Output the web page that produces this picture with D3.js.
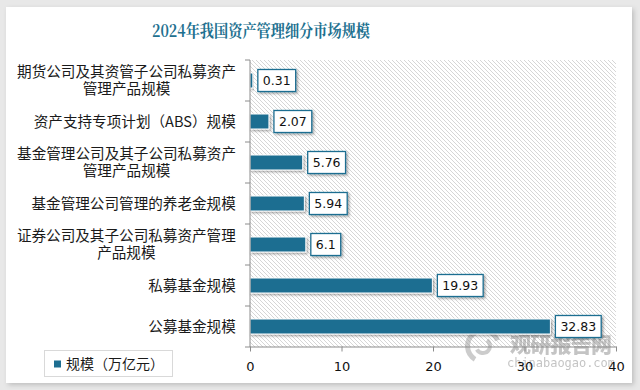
<!DOCTYPE html>
<html><head><meta charset="utf-8">
<script src="https://cdn.jsdelivr.net/npm/d3@7"></script>
<style>html,body{margin:0;padding:0;background:#e8e8e8;}svg{display:block;}</style>
</head><body>
<script>
const categories = [
  ["期货公司及其资管子公司私募资产","管理产品规模"],
  ["资产支持专项计划（ABS）规模"],
  ["基金管理公司及其子公司私募资产","管理产品规模"],
  ["基金管理公司管理的养老金规模"],
  ["证券公司及其子公司私募资产管理","产品规模"],
  ["私募基金规模"],
  ["公募基金规模"]
];
const values = [0.31, 2.07, 5.76, 5.94, 6.1, 19.93, 32.83];
const valueLabels = ["0.31","2.07","5.76","5.94","6.1","19.93","32.83"];
const xTicks = [0, 10, 20, 30, 40];
const title = "2024年我国资产管理细分市场规模";
const seriesName = "规模（万亿元）";

const W = 640, H = 390;
const blue = "#1d6e91";
const svg = d3.select("body").append("svg").attr("width", W).attr("height", H);
const defs = svg.append("defs");
const f1 = defs.append("filter").attr("id","panelShadow").attr("x","-5%").attr("y","-5%").attr("width","110%").attr("height","110%");
f1.append("feDropShadow").attr("dx",2).attr("dy",2).attr("stdDeviation",2.5).attr("flood-color","#000").attr("flood-opacity",0.18);
const f2 = defs.append("filter").attr("id","sh").attr("x","-20%").attr("y","-30%").attr("width","150%").attr("height","180%");
f2.append("feDropShadow").attr("dx",1.5).attr("dy",1.5).attr("stdDeviation",1).attr("flood-color","#000").attr("flood-opacity",0.35);
const pat = defs.append("pattern").attr("id","hatch").attr("patternUnits","userSpaceOnUse").attr("width",4).attr("height",4);
pat.append("rect").attr("width",4).attr("height",4).attr("fill","#fff");
pat.append("path").attr("d","M-1,3 l2,2 M0,0 l4,4 M3,-1 l2,2").attr("stroke","#d6d6d6").attr("stroke-width",1);

svg.append("rect").attr("x",6).attr("y",7).attr("width",626).attr("height",376).attr("fill","#fff").attr("filter","url(#panelShadow)");

svg.append("text").attr("x",261).attr("y",37).attr("text-anchor","middle")
  .attr("font-family","'Noto Serif CJK SC','Noto Sans CJK SC',serif").attr("font-weight","bold")
  .attr("font-size",17).attr("fill","#21708f").attr("textLength",218).attr("lengthAdjust","spacingAndGlyphs").text(title);

const x = d3.scaleLinear().domain([0,40]).range([250,616]);
const y = d3.scaleBand().domain(d3.range(categories.length)).range([60,347]).padding(0);
const barH = 15;

svg.append("rect").attr("x",250).attr("y",60).attr("width",366).attr("height",287).attr("fill","url(#hatch)");

// watermark
const wm = svg.append("g").attr("opacity",0.5);
wm.append("path").attr("d", d3.arc()({innerRadius:13,outerRadius:18,startAngle:-2.6,endAngle:1.2})).attr("transform","translate(483,346)").attr("fill","#9a9a9a");
wm.append("path").attr("d", d3.arc()({innerRadius:5,outerRadius:9,startAngle:0.6,endAngle:4.2})).attr("transform","translate(483,346)").attr("fill","#9a9a9a");
wm.append("text").attr("x",510).attr("y",352).attr("font-family","'Noto Sans CJK SC'").attr("font-weight","900").attr("font-size",21).attr("fill","#8a8a8a").attr("textLength",102).text("观研报告网");
wm.append("text").attr("x",507).attr("y",367).attr("font-family","'DejaVu Sans Mono',monospace").attr("font-size",12).attr("fill","#8a8a8a").attr("textLength",108).text("chinabaogao.com");

// bars
svg.selectAll("rect.bar").data(values).join("rect").attr("class","bar")
  .attr("x", x(0)).attr("y",(d,i)=>y(i)+y.bandwidth()/2-barH/2)
  .attr("width", d=>x(d)-x(0)).attr("height",barH)
  .attr("fill",blue).attr("stroke","#fff").attr("stroke-width",1).attr("filter","url(#sh)");

// axes
const gy = svg.append("g").attr("transform","translate(250,0)");
gy.append("line").attr("x1",0).attr("x2",0).attr("y1",60).attr("y2",347).attr("stroke","#8c8c8c");
gy.selectAll("line.t").data(d3.range(categories.length+1)).join("line").attr("class","t")
  .attr("x1",-5).attr("x2",0).attr("y1",i=>60+i*y.step()).attr("y2",i=>60+i*y.step()).attr("stroke","#8c8c8c");

const xAxis = d3.axisBottom(x).tickValues(xTicks).tickSize(5).tickSizeOuter(0);
const gx = svg.append("g").attr("transform","translate(0,346.5)").call(xAxis);
gx.select(".domain").attr("stroke","#8c8c8c");
gx.selectAll(".tick line").attr("stroke","#8c8c8c");
gx.selectAll(".tick text").attr("font-family","'DejaVu Sans',Verdana,sans-serif").attr("font-size",13).attr("fill","#111").attr("dy","1.28em");

// category labels
const lab = svg.append("g");
categories.forEach((lines,i)=>{
  const cy = y(i)+y.bandwidth()/2;
  const lh = 17.5;
  const g = lab.append("g");
  lines.forEach((t,j)=>{
    g.append("text").attr("y", cy + (j-(lines.length-1)/2)*lh).attr("dy","0.35em")
      .attr("text-anchor","middle").attr("font-family","'Noto Sans CJK SC',sans-serif")
      .attr("font-size",14.6).attr("fill","#1a1a1a").text(t);
  });
  const bb = g.node().getBBox();
  g.attr("transform",`translate(${236 - bb.width/2},0)`);
});

// value labels
values.forEach((v,i)=>{
  const cy = y(i)+y.bandwidth()/2;
  const g = svg.append("g");
  const t = g.append("text").attr("x", x(v)+10).attr("y",cy).attr("dy","0.36em")
    .attr("font-family","'DejaVu Sans',Verdana,sans-serif").attr("font-size",12.5).attr("fill","#111").text(valueLabels[i]);
  const tw = t.node().getComputedTextLength();
  g.insert("rect","text").attr("x",x(v)+5).attr("y",cy-11).attr("width",tw+10).attr("height",22)
    .attr("fill","#fff").attr("stroke",blue).attr("stroke-width",1.3).attr("filter","url(#sh)");
});

// legend
const lg = svg.append("g");
lg.append("rect").attr("x",44.5).attr("y",350.5).attr("width",128).attr("height",26).attr("fill","#fff").attr("stroke","#d9d9d9");
lg.append("rect").attr("x",54).attr("y",360.5).attr("width",7).attr("height",7).attr("fill",blue);
lg.append("text").attr("x",66).attr("y",364).attr("dy","0.36em").attr("font-family","'Noto Sans CJK SC',sans-serif").attr("font-size",14).attr("fill","#1a1a1a").text(seriesName);
</script>
</body></html>
